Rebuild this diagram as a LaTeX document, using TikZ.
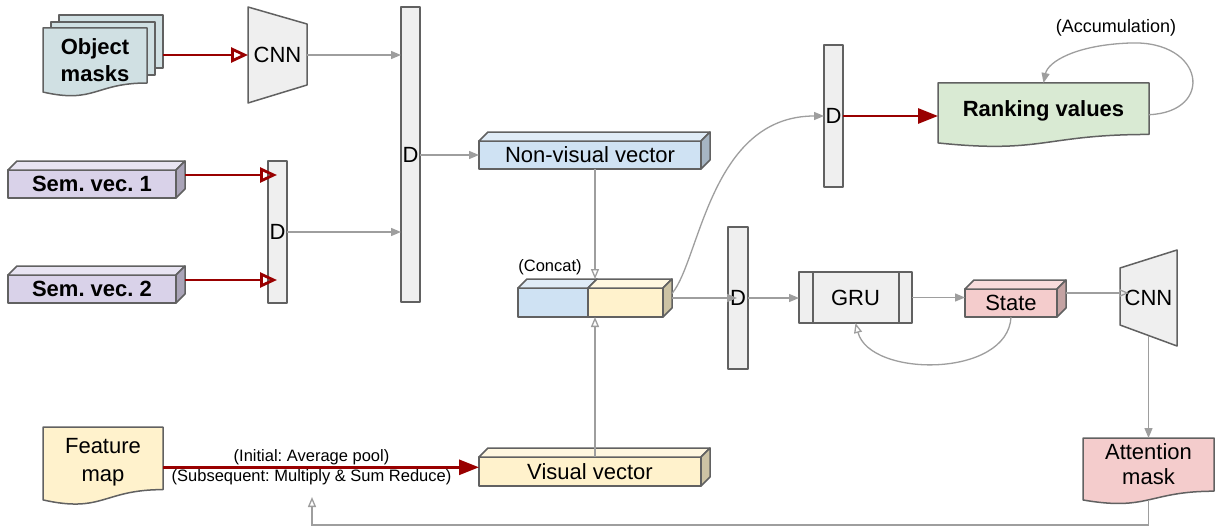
\documentclass[tikz,border=0pt]{standalone}
\usepackage{fontspec}
\setmainfont{Liberation Sans}
\usetikzlibrary{arrows.meta,backgrounds}
\frenchspacing

% document-like shape: flat top, wavy bottom edge
\makeatletter
\newdimen\wdXa \newdimen\wdXb \newdimen\wdYa \newdimen\wdYb
\newdimen\wdXm \newdimen\wdH \newdimen\wdYc \newdimen\wdYl
\pgfdeclareshape{wavedoc}{%
  \inheritsavedanchors[from=rectangle]
  \inheritanchorborder[from=rectangle]
  \inheritanchor[from=rectangle]{center}
  \inheritanchor[from=rectangle]{north}
  \inheritanchor[from=rectangle]{south}
  \inheritanchor[from=rectangle]{east}
  \inheritanchor[from=rectangle]{west}
  \inheritanchor[from=rectangle]{north east}
  \inheritanchor[from=rectangle]{north west}
  \inheritanchor[from=rectangle]{south east}
  \inheritanchor[from=rectangle]{south west}
  \inheritanchor[from=rectangle]{mid}
  \inheritanchor[from=rectangle]{base}
  \backgroundpath{%
    \southwest \wdXa=\pgf@x \wdYa=\pgf@y
    \northeast \wdXb=\pgf@x \wdYb=\pgf@y
    \wdXm=.5\wdXa \advance\wdXm by .5\wdXb
    \wdH=\wdYb \advance\wdH by -\wdYa
    \wdYc=\wdYb \advance\wdYc by -1.380\wdH
    \wdYl=\wdYb \advance\wdYl by -1.1646\wdH
    \pgfpathmoveto{\pgfqpoint{\wdXa}{\wdYb}}%
    \pgfpathlineto{\pgfqpoint{\wdXb}{\wdYb}}%
    \pgfpathlineto{\pgfqpoint{\wdXb}{\wdYa}}%
    \pgfpathcurveto{\pgfqpoint{\wdXm}{\wdYa}}{\pgfqpoint{\wdXm}{\wdYc}}{\pgfqpoint{\wdXa}{\wdYl}}%
    \pgfpathclose
  }%
}
\makeatother

% two centred lines, lowered by #1 without changing the box size
\newcommand\twolines[3]{\raisebox{#1}[\height][\depth]{\begin{tabular}{@{}c@{}}#2\\#3\end{tabular}}}

\definecolor{edge}{HTML}{616161}
\definecolor{conn}{HTML}{9E9E9E}
\definecolor{darkred}{HTML}{990000}
\definecolor{gbox}{HTML}{EFEFEF}
\definecolor{maskfill}{HTML}{D0E0E3}
\definecolor{semfill}{HTML}{D9D2E9}
\definecolor{semtop}{HTML}{E8E4F2}
\definecolor{semside}{HTML}{AAA4B8}
\definecolor{nvfill}{HTML}{CFE2F3}
\definecolor{nvtop}{HTML}{E0ECF7}
\definecolor{nvside}{HTML}{A6B5C3}
\definecolor{vfill}{HTML}{FFF2CC}
\definecolor{vtop}{HTML}{FFF7E0}
\definecolor{vside}{HTML}{CDC3A4}
\definecolor{rankfill}{HTML}{D9EAD3}
\definecolor{redfill}{HTML}{F4CCCC}
\definecolor{redtop}{HTML}{F8DCDC}
\definecolor{redside}{HTML}{C4A3A3}

% top and side faces of a flat cuboid drawn behind a front rectangle node
\newcommand\topface[2]{\filldraw[facest, fill=#2] (#1.north west) -- ++(9pt,9pt)
  -- ([shift={(9pt,9pt)}]#1.north east) -- (#1.north east) -- cycle;}
\newcommand\sideface[2]{\filldraw[facest, fill=#2] (#1.north east) -- ++(9pt,9pt)
  -- ([shift={(9pt,9pt)}]#1.south east) -- (#1.south east) -- cycle;}

\begin{document}
\begin{tikzpicture}[x=1pt,y=-1pt,
  every node/.style={inner sep=0pt, outer sep=0pt},
  fnt/.style={font=\fontsize{22}{27}\selectfont},
  bfnt/.style={font=\fontsize{22}{27}\selectfont\bfseries},
  lbl/.style={font=\fontsize{16.5}{19}\selectfont},
  sz/.style 2 args={minimum width=#1, minimum height=#2},
  box/.style={draw=edge, line width=1.5pt, line join=round, align=center, fnt},
  dense/.style={box, fill=gbox},
  doc/.style={box, shape=wavedoc},
  sheet/.style={box, fill=maskfill},
  facest/.style={draw=edge, line width=1.5pt, line join=round},
  trap/.style={draw=edge, line width=1.5pt, line join=round, fill=gbox},
  gline/.style={draw=conn, line width=1.3pt, -{Triangle[length=10pt,width=8pt]}},
  gopen/.style={draw=conn, line width=1.3pt, -{Triangle[open,length=10pt,width=8pt]}},
  rfill/.style={draw=darkred, line width=2.8pt, -{Triangle[length=20pt,width=15pt]}},
  ropen/.style={draw=darkred, line width=2.8pt, -{Triangle[open,length=17pt,width=15pt]}},
]
\begin{pgfonlayer}{background}
  \fill[white] (0,0) rectangle (1216,527);
\end{pgfonlayer}
\useasboundingbox (0,0) rectangle (1216,527);

% ---------- input branch: object masks ----------
\node[sheet, sz={104}{53}] (om1) at (111,41.5) {};
\node[sheet, sz={104}{53}] (om2) at (103,48.5) {};
\node[doc, fill=maskfill, sz={104}{55}, bfnt] (om) at (95,55.5) {\twolines{-7pt}{Object}{masks}};
\node[box, draw=none, sz={59}{96}] (cnn1) at (277.5,55) {CNN};

% ---------- semantic vectors ----------
\node[box, fill=semfill, sz={168}{28}, bfnt] (sem1) at (92,184) {Sem. vec. 1};
\topface{sem1}{semtop}\sideface{sem1}{semside}
\node[box, fill=semfill, sz={168}{28}, bfnt] (sem2) at (92,289) {Sem. vec. 2};
\topface{sem2}{semtop}\sideface{sem2}{semside}

% ---------- dense layers ----------
\node[dense, sz={19}{142}] (smallD) at (277.5,232) {D};
\node[dense, sz={19}{295}] (bigD) at (410.5,154.5) {D};
\node[dense, sz={20}{142}] (midD) at (738,298) {D};
\node[dense, sz={19}{142}] (topD) at (833.5,116) {D};

% ---------- vectors ----------
\node[box, fill=nvfill, sz={222}{28}] (nv) at (590,155) {Non-visual vector};
\topface{nv}{nvtop}\sideface{nv}{nvside}

\node[box, fill=nvfill, sz={70}{29}] (cc1) at (553,302.5) {};
\node[box, fill=vfill, sz={75}{29}] (cc2) at (625.5,302.5) {};
\topface{cc1}{nvtop}\topface{cc2}{vtop}\sideface{cc2}{vside}
\node[lbl] (cclbl) at (550,267) {(Concat)};
\coordinate (cctop) at ([xshift=7pt,yshift=9pt]cc2.north west);

\node[box, fill=vfill, sz={222}{29}] (vv) at (590,471.5) {Visual vector};
\topface{vv}{vtop}\sideface{vv}{vside}

\node[doc, fill=vfill, sz={120}{62.6}, font=\fontsize{22}{28}\selectfont] (fm) at (103,458.3)
  {\twolines{-4pt}{Feature}{map}};

% ---------- recurrent part ----------
\node[dense, sz={113}{51}] (gru) at (855.5,297.5) {GRU};
\draw[facest] ([xshift=14pt]gru.north west) -- ([xshift=14pt]gru.south west);
\draw[facest] ([xshift=-13pt]gru.north east) -- ([xshift=-13pt]gru.south east);

\node[box, fill=redfill, sz={92}{28}] (st) at (1011,303) {State};
\topface{st}{redtop}\sideface{st}{redside}

\node[box, draw=none, sz={57}{96}] (cnn2) at (1148.5,298) {CNN};
\node[doc, fill=redfill, sz={131}{53.2}, font=\fontsize{22}{25}\selectfont] (am) at (1148.5,464.6) {Attention\\mask};

\node[doc, fill=rankfill, sz={211}{51.5}, bfnt, text depth=0pt] (rv) at (1043.5,108.7) {Ranking values};
\node[font=\fontsize{18}{21}\selectfont] (acclbl) at (1116,28) {(Accumulation)};

% convolution blocks drawn as funnels behind their labels
\begin{pgfonlayer}{background}
  \filldraw[trap] (cnn1.north west) -- ([yshift=-17pt]cnn1.north east)
    -- ([yshift=18pt]cnn1.south east) -- (cnn1.south west) -- cycle;
  \filldraw[trap] ([yshift=-18pt]cnn2.north west) -- (cnn2.north east)
    -- (cnn2.south east) -- ([yshift=21pt]cnn2.south west) -- cycle;
\end{pgfonlayer}

% ---------- connectors ----------
\draw[ropen] (om1.east |- cnn1.west) -- (cnn1.west);
\draw[gline] (cnn1.east) -- (cnn1.east -| bigD.west);
\draw[ropen] ([shift={(9pt,9pt)}]sem1.east) -- ([shift={(9pt,9pt)}]sem1.east -| smallD.west);
\draw[ropen] ([shift={(9pt,9pt)}]sem2.east) -- ([shift={(9pt,9pt)}]sem2.east -| smallD.west);
\draw[gline] (smallD.east) -- (smallD.east -| bigD.west);
\draw[gline] (bigD.east |- nv.west) -- (nv.west);
\draw[gopen] (nv.south -| cctop) -- (cctop);
\draw[gopen] (vv.north -| cctop) -- (cctop |- cc2.south);
\draw[gline] ([shift={(9pt,4.5pt)}]cc2.east) -- ([shift={(9pt,4.5pt)}]cc2.east -| midD.west);
\draw[gline] ([shift={(9pt,9pt)}]cc2.east) .. controls (700,260) and (710,116) .. (topD.west);
\draw[rfill] (topD.east) -- (topD.east -| rv.west);
\draw[gline] ([yshift=-6pt]rv.east) .. controls (1215,112) and (1205,40) .. (1130,43)
  .. controls (1075,45) and (1048,62) .. (rv.north);
\draw[gline] (midD.east) -- (midD.east -| gru.west);
\draw[gline] (gru.east) -- (gru.east -| st.west);
\draw[gopen] ([shift={(9pt,10pt)}]st.east) -- ([shift={(9pt,10pt)}]st.east -| cnn2.west);
\draw[gopen] (st.south) .. controls (1008,378) and (870,378) .. (gru.south);
\draw[gline] ([yshift=10pt]cnn2.south) -- (am.north);
\draw[rfill] ([yshift=-9pt]fm.east) -- ([yshift=-9pt]fm.east -| vv.west)
  node[pos=0.47, above=2pt, lbl] (lblinit) {(Initial: Average pool)}
  node[pos=0.47, below=2pt, lbl] (lblsub) {(Subsequent: Multiply \& Sum Reduce)};
\coordinate (ret) at (312,497);
\coordinate (retcorner) at (312,525);
\draw[gopen] ([yshift=-9pt]am.south) |- (retcorner) -- (ret);
\end{tikzpicture}
\end{document}
